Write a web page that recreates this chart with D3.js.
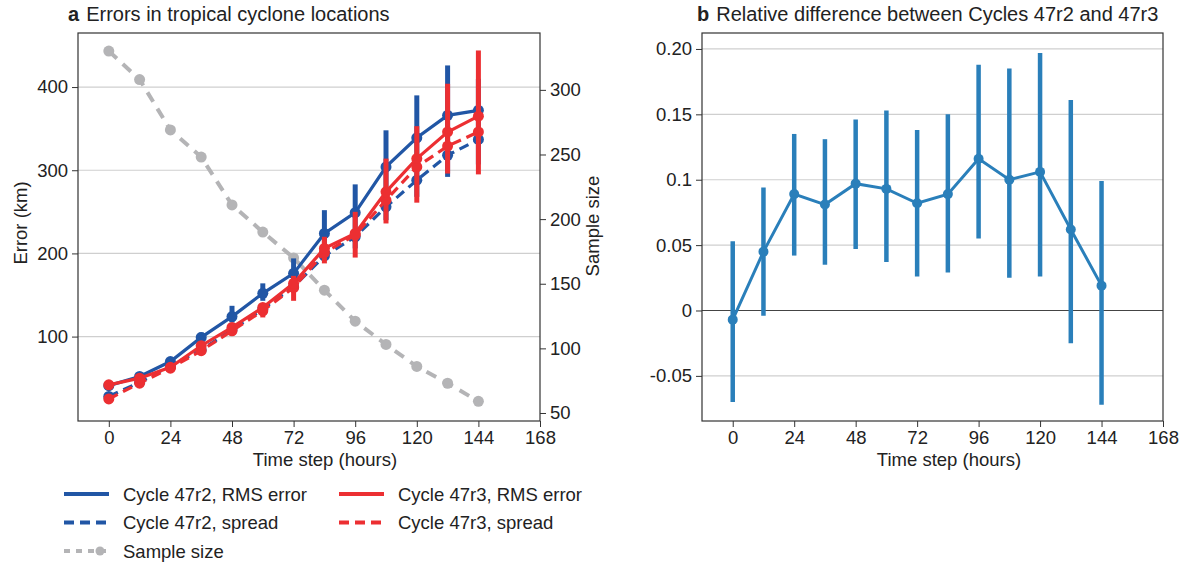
<!DOCTYPE html>
<html>
<head>
<meta charset="utf-8">
<script src="https://cdn.jsdelivr.net/npm/d3@7"></script>
<style>
  body { margin: 0; background: #fff; }
  svg { font-family: "Liberation Sans", Arial, sans-serif; }
  .tick text { font-size: 18.5px; fill: #222; }
  .domain, .tick line { stroke: #333; }
</style>
</head>
<body>
<svg id="chart" width="1191" height="565"></svg>
<script>
// time steps (hours)
const hours = [0, 12, 24, 36, 48, 60, 72, 84, 96, 108, 120, 132, 144];

// panel a: errors (km)
const rms47r2 = [41, 52, 70, 99, 124, 152, 176, 224, 249, 304, 339, 366, 372];
const rms47r2Lo = [39, 50, 67, 93, 117, 143, 165, 191, 206, 240, 268, 292, 307];
const rms47r2Hi = [43, 55, 74, 105, 137, 164, 194, 252, 283, 348, 390, 426, 410];
const rms47r3 = [42, 50, 63, 89, 111, 135, 164, 206, 224, 274, 314, 346, 365];
const rms47r3Lo = [40, 48, 61, 81, 104, 123, 143, 188, 195, 236, 261, 296, 295];
const rms47r3Hi = [44, 52, 66, 92, 113, 140, 173, 220, 250, 314, 353, 404, 444];
const spread47r2 = [28, 45, 65, 84, 108, 133, 160, 197, 220, 256, 288, 318, 337];
const spread47r3 = [25, 44, 62, 83, 107, 131, 159, 201, 222, 264, 304, 329, 346];
const sampleSize = [330, 308, 269, 248, 211, 190, 170, 145, 121, 103, 86, 73, 59];

// panel b: relative difference
const relDiff = [-0.007, 0.045, 0.089, 0.081, 0.097, 0.093, 0.082, 0.089, 0.116, 0.100, 0.106, 0.062, 0.019];
const relLo = [-0.070, -0.004, 0.042, 0.035, 0.047, 0.037, 0.026, 0.029, 0.055, 0.025, 0.026, -0.025, -0.072];
const relHi = [0.053, 0.094, 0.135, 0.131, 0.146, 0.153, 0.138, 0.150, 0.188, 0.185, 0.197, 0.161, 0.099];

const xTicks = [0, 24, 48, 72, 96, 120, 144, 168];
const errTicks = [100, 200, 300, 400];
const sampleTicks = [50, 100, 150, 200, 250, 300];
const relTicks = [-0.05, 0, 0.05, 0.1, 0.15, 0.20];
const relTickLabels = ['-0.05', '0', '0.05', '0.1', '0.15', '0.20'];

const blue = '#2156a5', red = '#ec2f32', gray = '#b4b4b6', steel = '#2a7fba';
const fs = 18.5;

const svg = d3.select('#chart');

// ---------- panel a ----------
const a = { left: 78, right: 540, top: 33, bottom: 421 };
const x = d3.scaleLinear().domain([-12, 168]).range([a.left, a.right]);
const yErr = d3.scaleLinear().domain([-1.5, 465]).range([a.bottom, a.top]);
const ySam = d3.scaleLinear().domain([43.8, 344]).range([a.bottom, a.top]);

const gA = svg.append('g');

// grid
gA.selectAll('.grid').data(errTicks).join('line')
  .attr('x1', a.left).attr('x2', a.right)
  .attr('y1', d => yErr(d)).attr('y2', d => yErr(d))
  .attr('stroke', '#cfcfcf').attr('stroke-width', 1.2);

gA.append('rect')
  .attr('x', a.left).attr('y', a.top)
  .attr('width', a.right - a.left).attr('height', a.bottom - a.top)
  .attr('fill', 'none').attr('stroke', '#333').attr('stroke-width', 1.2);

gA.append('g').attr('transform', `translate(0,${a.bottom})`)
  .call(d3.axisBottom(x).tickValues(xTicks).tickSize(6).tickPadding(4))
  .call(g => g.select('.domain').remove());
gA.append('g').attr('transform', `translate(${a.left},0)`)
  .call(d3.axisLeft(yErr).tickValues(errTicks).tickSize(6).tickPadding(4))
  .call(g => g.select('.domain').remove());
gA.append('g').attr('transform', `translate(${a.right},0)`)
  .call(d3.axisRight(ySam).tickValues(sampleTicks).tickSize(6).tickPadding(4))
  .call(g => g.select('.domain').remove());

gA.append('text').attr('transform', 'translate(27,223) rotate(-90)')
  .attr('text-anchor', 'middle').attr('font-size', fs).attr('fill', '#222').text('Error (km)');
gA.append('text').attr('transform', 'translate(599,226) rotate(-90)')
  .attr('text-anchor', 'middle').attr('font-size', fs).attr('fill', '#222').text('Sample size');
gA.append('text').attr('x', 325).attr('y', 466)
  .attr('text-anchor', 'middle').attr('font-size', fs).attr('fill', '#222').text('Time step (hours)');
const tA = gA.append('text').attr('x', 68).attr('y', 21).attr('font-size', 20).attr('fill', '#222');
tA.append('tspan').attr('font-weight', 'bold').text('a');
tA.append('tspan').attr('dx', 7).text('Errors in tropical cyclone locations');

// sample size line
const lineSam = d3.line().x((d, i) => x(hours[i])).y(d => ySam(d));
gA.append('path').datum(sampleSize).attr('d', lineSam)
  .attr('fill', 'none').attr('stroke', gray).attr('stroke-width', 4).attr('stroke-dasharray', '11,8');
gA.selectAll('.samp').data(sampleSize).join('circle')
  .attr('cx', (d, i) => x(hours[i])).attr('cy', d => ySam(d)).attr('r', 5.5).attr('fill', gray);

const lineErr = d3.line().x((d, i) => x(hours[i])).y(d => yErr(d));

function series(vals, color, dashed) {
  gA.append('path').datum(vals).attr('d', lineErr)
    .attr('fill', 'none').attr('stroke', color).attr('stroke-width', 3.2)
    .attr('stroke-dasharray', dashed ? '10,6' : null);
  gA.append('g').selectAll('circle').data(vals).join('circle')
    .attr('cx', (d, i) => x(hours[i])).attr('cy', d => yErr(d)).attr('r', 5.5).attr('fill', color);
}
function bars(lo, hi, color) {
  gA.append('g').selectAll('line').data(lo).join('line')
    .attr('x1', (d, i) => x(hours[i])).attr('x2', (d, i) => x(hours[i]))
    .attr('y1', d => yErr(d)).attr('y2', (d, i) => yErr(hi[i]))
    .attr('stroke', color).attr('stroke-width', 5);
}

bars(rms47r2Lo, rms47r2Hi, blue);
series(spread47r2, blue, true);
series(rms47r2, blue, false);
bars(rms47r3Lo, rms47r3Hi, red);
series(spread47r3, red, true);
series(rms47r3, red, false);

// legend
const legend = [
  { label: 'Cycle 47r2, RMS error', color: blue, dash: null, col: 0, row: 0 },
  { label: 'Cycle 47r3, RMS error', color: red, dash: null, col: 1, row: 0 },
  { label: 'Cycle 47r2, spread', color: blue, dash: '10,6', col: 0, row: 1 },
  { label: 'Cycle 47r3, spread', color: red, dash: '10,6', col: 1, row: 1 },
  { label: 'Sample size', color: gray, dash: '6,6', col: 0, row: 2 }
];
const lg = gA.append('g');
legend.forEach(d => {
  const lx = 64 + d.col * 275, ly = 494 + d.row * 28.5;
  lg.append('line').attr('x1', lx).attr('x2', lx + 45).attr('y1', ly).attr('y2', ly)
    .attr('stroke', d.color).attr('stroke-width', 4).attr('stroke-dasharray', d.dash);
  if (d.row === 2) lg.append('circle').attr('cx', lx + 36).attr('cy', ly).attr('r', 4.5).attr('fill', d.color);
  lg.append('text').attr('x', lx + 59).attr('y', ly + 6.5).attr('font-size', fs).attr('fill', '#222').text(d.label);
});

// ---------- panel b ----------
const b = { left: 702, right: 1163, top: 33, bottom: 421 };
const xb = d3.scaleLinear().domain([-12, 168]).range([b.left, b.right]);
const yb = d3.scaleLinear().domain([-0.0845, 0.2122]).range([b.bottom, b.top]);
const gB = svg.append('g');

gB.selectAll('.grid').data(relTicks.filter(d => d !== 0)).join('line')
  .attr('x1', b.left).attr('x2', b.right)
  .attr('y1', d => yb(d)).attr('y2', d => yb(d))
  .attr('stroke', '#cfcfcf').attr('stroke-width', 1.2);
gB.append('line').attr('x1', b.left).attr('x2', b.right)
  .attr('y1', yb(0)).attr('y2', yb(0)).attr('stroke', '#444').attr('stroke-width', 1.2);

gB.append('rect')
  .attr('x', b.left).attr('y', b.top)
  .attr('width', b.right - b.left).attr('height', b.bottom - b.top)
  .attr('fill', 'none').attr('stroke', '#333').attr('stroke-width', 1.2);

gB.append('g').attr('transform', `translate(0,${b.bottom})`)
  .call(d3.axisBottom(xb).tickValues(xTicks).tickSize(6).tickPadding(4))
  .call(g => g.select('.domain').remove());
gB.append('g').attr('transform', `translate(${b.left},0)`)
  .call(d3.axisLeft(yb).tickValues(relTicks).tickFormat((d, i) => relTickLabels[i]).tickSize(6).tickPadding(4))
  .call(g => g.select('.domain').remove());

gB.append('text').attr('x', 949).attr('y', 466)
  .attr('text-anchor', 'middle').attr('font-size', fs).attr('fill', '#222').text('Time step (hours)');
const tB = gB.append('text').attr('x', 697).attr('y', 21).attr('font-size', 20).attr('fill', '#222');
tB.append('tspan').attr('font-weight', 'bold').text('b');
tB.append('tspan').attr('dx', 7).text('Relative difference between Cycles 47r2 and 47r3');

gB.append('g').selectAll('line').data(relLo).join('line')
  .attr('x1', (d, i) => xb(hours[i])).attr('x2', (d, i) => xb(hours[i]))
  .attr('y1', d => yb(d)).attr('y2', (d, i) => yb(relHi[i]))
  .attr('stroke', steel).attr('stroke-width', 4.5);
gB.append('path').datum(relDiff)
  .attr('d', d3.line().x((d, i) => xb(hours[i])).y(d => yb(d)))
  .attr('fill', 'none').attr('stroke', steel).attr('stroke-width', 3);
gB.append('g').selectAll('circle').data(relDiff).join('circle')
  .attr('cx', (d, i) => xb(hours[i])).attr('cy', d => yb(d)).attr('r', 5).attr('fill', steel);
</script>
</body>
</html>
